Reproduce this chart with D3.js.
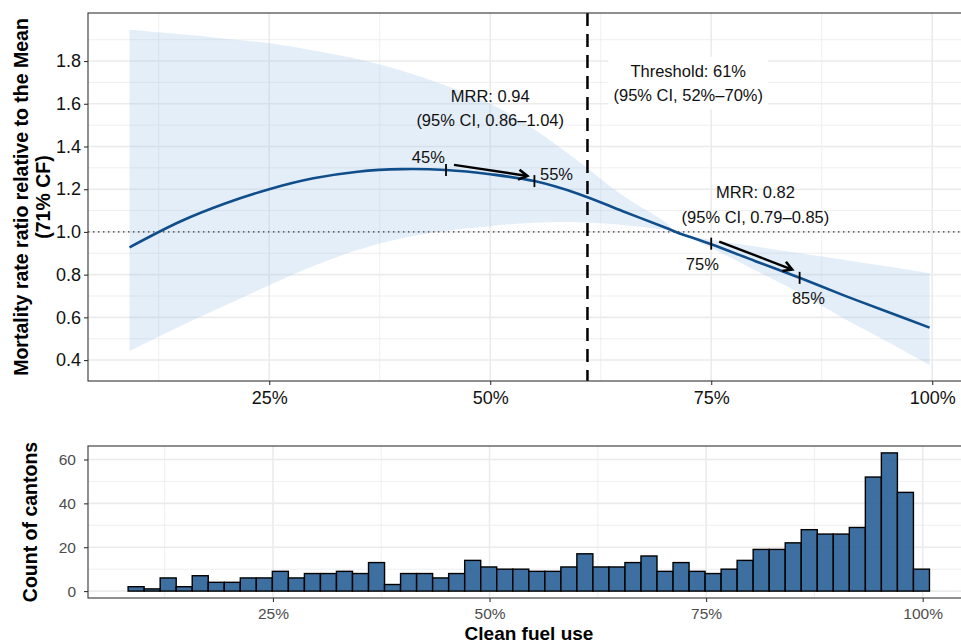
<!DOCTYPE html>
<html>
<head>
<meta charset="utf-8">
<script src="https://cdn.jsdelivr.net/npm/d3@7"></script>
<style>
  body { margin: 0; background: #fff; }
  svg { display: block; font-family: "Liberation Sans", Arial, Helvetica, sans-serif; }
</style>
</head>
<body>
<div class="container"></div>
<script>
// ---- data ----
// spline fit (MRR relative to 71% CF) and its 95% ribbon
const fuelX    = [0.092, 0.15, 0.2, 0.25, 0.3, 0.35, 0.4, 0.45, 0.5, 0.55, 0.6, 0.65, 0.7, 0.71, 0.75, 0.8, 0.85, 0.9, 0.95, 0.997];
const mrrFit   = [0.928, 1.05, 1.133, 1.2, 1.251, 1.282, 1.294, 1.29, 1.27, 1.238, 1.178, 1.097, 1.017, 1.0, 0.942, 0.863, 0.785, 0.703, 0.625, 0.552];
const mrrUpper = [1.946, 1.925, 1.905, 1.883, 1.85, 1.81, 1.755, 1.685, 1.6, 1.48, 1.33, 1.17, 1.04, 1.0, 0.963, 0.932, 0.90, 0.87, 0.838, 0.807];
const mrrLower = [0.443, 0.56, 0.655, 0.75, 0.84, 0.915, 0.97, 1.005, 1.027, 1.043, 1.045, 1.032, 1.008, 1.0, 0.925, 0.82, 0.714, 0.595, 0.485, 0.377];

// histogram of cantons (50 bins)
const binCounts = [2, 1, 6, 2, 7, 4, 4, 6, 6, 9, 6, 8, 8, 9, 8, 13, 3, 8, 8, 6,
                   8, 14, 11, 10, 10, 9, 9, 11, 17, 11, 11, 13, 16, 9, 13, 9, 8, 10, 14, 19,
                   19, 22, 28, 26, 26, 29, 52, 63, 45, 10];
const binStart = 0.0828;
const binWidth = 0.0185;

// ticks
const xMajor = [0.25, 0.5, 0.75, 1];
const xMinor = [0.125, 0.375, 0.625, 0.875];
const yMajorTop = [0.4, 0.6, 0.8, 1.0, 1.2, 1.4, 1.6, 1.8];
const yMinorTop = [0.5, 0.7, 0.9, 1.1, 1.3, 1.5, 1.7, 1.9];
const yMajorBot = [0, 20, 40, 60];
const yMinorBot = [10, 30, 50];

// annotations
const threshold = 0.61;
const markX = [0.45, 0.55, 0.75, 0.85];
const markY = [1.29, 1.238, 0.945, 0.785];
const markLabels = ["45%", "55%", "75%", "85%"];
const markLabelX = [0.43, 0.575, 0.74, 0.86];
const markLabelY = [1.35, 1.27, 0.85, 0.69];
const arrowFrom = [[0.459, 1.314], [0.759, 0.955]];
const arrowTo = [[0.542, 1.262], [0.8416, 0.824]];
const mrrNotes = [
    {x: 0.5, y: 1.579, lines: ["MRR: 0.94", "(95% CI, 0.86\u20131.04)"]},
    {x: 0.80, y: 1.129, lines: ["MRR: 0.82", "(95% CI, 0.79\u20130.85)"]}
];
const thresholdNote = {x: 0.724, y: 1.697, lines: ["Threshold: 61%", "(95% CI, 52%\u201370%)"]};

//Set up chart
const svgWidth = 961, svgHeight = 643;
const mainBox = {left: 88, right: 972, top: 13, bottom: 381};
const histBox = {left: 88, right: 970, top: 446, bottom: 598};

const svg = d3.select(".container")
    .append("svg")
    .attr("width", svgWidth)
    .attr("height", svgHeight);

const xTop = d3.scaleLinear().domain([0.045, 1.045]).range([mainBox.left, mainBox.right]);
const yTop = d3.scaleLinear().domain([0.302, 2.025]).range([mainBox.bottom, mainBox.top]);
const xBot = d3.scaleLinear().domain([0.0365, 1.0546]).range([histBox.left, histBox.right]);
const yBot = d3.scaleLinear().domain([-3.15, 66.15]).range([histBox.bottom, histBox.top]);

const pct = d3.format(".0%");
const smooth = d3.curveCatmullRom.alpha(0.5);

//Background grid for a panel
function drawGrid(g, x, y, box, xMaj, xMin, yMaj, yMin) {
    g.selectAll(".gx-min").data(xMin).join("line")
        .attr("x1", d => x(d)).attr("x2", d => x(d))
        .attr("y1", box.top).attr("y2", box.bottom)
        .attr("stroke", "#ebebeb").attr("stroke-width", 0.8);
    g.selectAll(".gy-min").data(yMin).join("line")
        .attr("y1", d => y(d)).attr("y2", d => y(d))
        .attr("x1", box.left).attr("x2", box.right)
        .attr("stroke", "#ebebeb").attr("stroke-width", 0.8);
    g.selectAll(".gx-maj").data(xMaj).join("line")
        .attr("x1", d => x(d)).attr("x2", d => x(d))
        .attr("y1", box.top).attr("y2", box.bottom)
        .attr("stroke", "#ebebeb").attr("stroke-width", 1.6);
    g.selectAll(".gy-maj").data(yMaj).join("line")
        .attr("y1", d => y(d)).attr("y2", d => y(d))
        .attr("x1", box.left).attr("x2", box.right)
        .attr("stroke", "#ebebeb").attr("stroke-width", 1.6);
}

// ---------- top panel ----------
const mainGroup = svg.append("g");
drawGrid(mainGroup.append("g"), xTop, yTop, mainBox, xMajor, xMinor, yMajorTop, yMinorTop);

const idx = d3.range(fuelX.length);

mainGroup.append("path")
    .datum(idx)
    .attr("fill", "#a6c8ec")
    .attr("fill-opacity", 0.3)
    .attr("d", d3.area()
        .x(i => xTop(fuelX[i]))
        .y0(i => yTop(mrrLower[i]))
        .y1(i => yTop(mrrUpper[i]))
        .curve(smooth));

// reference line at 1
mainGroup.append("line")
    .attr("x1", mainBox.left).attr("x2", mainBox.right)
    .attr("y1", yTop(1)).attr("y2", yTop(1))
    .attr("stroke", "#333")
    .attr("stroke-width", 1.4)
    .attr("stroke-dasharray", "1.4,3.6");

// threshold line
mainGroup.append("line")
    .attr("x1", xTop(threshold)).attr("x2", xTop(threshold))
    .attr("y1", mainBox.top).attr("y2", mainBox.bottom)
    .attr("stroke", "#000")
    .attr("stroke-width", 2.5)
    .attr("stroke-dasharray", "13,8");

// fitted curve
mainGroup.append("path")
    .datum(idx)
    .attr("fill", "none")
    .attr("stroke", "#104e8b")
    .attr("stroke-width", 2.6)
    .attr("d", d3.line()
        .x(i => xTop(fuelX[i]))
        .y(i => yTop(mrrFit[i]))
        .curve(smooth));

// short ticks on the curve
mainGroup.selectAll(".mark").data(markX).join("line")
    .attr("x1", d => xTop(d)).attr("x2", d => xTop(d))
    .attr("y1", (d, i) => yTop(markY[i]) - 6)
    .attr("y2", (d, i) => yTop(markY[i]) + 6)
    .attr("stroke", "#000")
    .attr("stroke-width", 1.8);

mainGroup.selectAll(".mark-label").data(markLabels).join("text")
    .attr("x", (d, i) => xTop(markLabelX[i]))
    .attr("y", (d, i) => yTop(markLabelY[i]))
    .attr("dy", "0.36em")
    .attr("text-anchor", "middle")
    .attr("font-size", 16.5)
    .attr("fill", "#111")
    .text(d => d);

// arrows
arrowFrom.forEach(function(from, i) {
    const x1 = xTop(from[0]), y1 = yTop(from[1]);
    const x2 = xTop(arrowTo[i][0]), y2 = yTop(arrowTo[i][1]);
    const ang = Math.atan2(y2 - y1, x2 - x1);
    const len = 10, spread = Math.PI / 6;
    mainGroup.append("line")
        .attr("x1", x1).attr("y1", y1).attr("x2", x2).attr("y2", y2)
        .attr("stroke", "#000").attr("stroke-width", 2.4);
    mainGroup.append("path")
        .attr("d", `M${x2 - len * Math.cos(ang - spread)},${y2 - len * Math.sin(ang - spread)}` +
            `L${x2},${y2}` +
            `L${x2 - len * Math.cos(ang + spread)},${y2 - len * Math.sin(ang + spread)}`)
        .attr("fill", "none")
        .attr("stroke", "#000")
        .attr("stroke-width", 2.6)
        .attr("stroke-linejoin", "miter");
});

//Multi-line note helper
const lineGap = 24.5;
function addNote(g, note) {
    const t = g.append("text")
        .attr("text-anchor", "middle")
        .attr("font-size", 16.5)
        .attr("fill", "#111");
    note.lines.forEach(function(line, k) {
        t.append("tspan")
            .attr("x", xTop(note.x))
            .attr("y", yTop(note.y) + (k - (note.lines.length - 1) / 2) * lineGap)
            .attr("dy", "0.36em")
            .text(line);
    });
    return t;
}

mrrNotes.forEach(n => addNote(mainGroup, n));

const thrGroup = mainGroup.append("g");
const thrBg = thrGroup.append("rect").attr("fill", "#fff");
const thrText = addNote(thrGroup, thresholdNote);
const bb = thrText.node().getBBox();
thrBg.attr("x", bb.x - 5).attr("y", bb.y - 5)
    .attr("width", bb.width + 10).attr("height", bb.height + 10)
    .attr("rx", 3);

// border
mainGroup.append("rect")
    .attr("x", mainBox.left).attr("y", mainBox.top)
    .attr("width", mainBox.right - mainBox.left)
    .attr("height", mainBox.bottom - mainBox.top)
    .attr("fill", "none").attr("stroke", "#333").attr("stroke-width", 1.1);

// axes
const leftAxisTop = mainGroup.append("g")
    .attr("transform", `translate(${mainBox.left},0)`)
    .call(d3.axisLeft(yTop).tickValues(yMajorTop).tickSize(4).tickPadding(3).tickFormat(d3.format(".1f")));
const bottomAxisTop = mainGroup.append("g")
    .attr("transform", `translate(0,${mainBox.bottom})`)
    .call(d3.axisBottom(xTop).tickValues(xMajor).tickSize(4).tickPadding(6).tickFormat(pct));

[leftAxisTop, bottomAxisTop].forEach(function(ax) {
    ax.select(".domain").remove();
    ax.selectAll(".tick line").attr("stroke", "#333").attr("stroke-width", 1.1);
    ax.selectAll("text")
        .attr("font-family", "'Liberation Sans', Arial, sans-serif")
        .attr("font-size", 18).attr("fill", "#111");
});

// y title
const yTitle = mainGroup.append("text")
    .attr("transform", `translate(0,${(mainBox.top + mainBox.bottom) / 2}) rotate(-90)`)
    .attr("text-anchor", "middle")
    .attr("font-weight", "bold")
    .attr("font-size", 19.5)
    .attr("fill", "#000");
yTitle.append("tspan").attr("x", 0).attr("y", 28).text("Mortality rate ratio relative to the Mean");
yTitle.append("tspan").attr("x", 0).attr("y", 50).text("(71% CF)");

// ---------- bottom panel ----------
const histGroup = svg.append("g");
drawGrid(histGroup.append("g"), xBot, yBot, histBox, xMajor, xMinor, yMajorBot, yMinorBot);

histGroup.selectAll(".bar").data(binCounts).join("rect")
    .attr("x", (d, i) => xBot(binStart + i * binWidth))
    .attr("width", xBot(binWidth) - xBot(0))
    .attr("y", d => yBot(d))
    .attr("height", d => yBot(0) - yBot(d))
    .attr("fill", "#285f97")
    .attr("fill-opacity", 0.9)
    .attr("stroke", "#000")
    .attr("stroke-width", 1.4);

histGroup.append("rect")
    .attr("x", histBox.left).attr("y", histBox.top)
    .attr("width", histBox.right - histBox.left)
    .attr("height", histBox.bottom - histBox.top)
    .attr("fill", "none").attr("stroke", "#333").attr("stroke-width", 1.1);

const leftAxisBot = histGroup.append("g")
    .attr("transform", `translate(${histBox.left},0)`)
    .call(d3.axisLeft(yBot).tickValues(yMajorBot).tickSize(4).tickPadding(8));
const bottomAxisBot = histGroup.append("g")
    .attr("transform", `translate(0,${histBox.bottom})`)
    .call(d3.axisBottom(xBot).tickValues(xMajor).tickSize(4).tickPadding(6).tickFormat(pct));

[leftAxisBot, bottomAxisBot].forEach(function(ax) {
    ax.select(".domain").remove();
    ax.selectAll(".tick line").attr("stroke", "#333").attr("stroke-width", 1.1);
    ax.selectAll("text")
        .attr("font-family", "'Liberation Sans', Arial, sans-serif")
        .attr("font-size", 15.5).attr("fill", "#4d4d4d");
});

histGroup.append("text")
    .attr("transform", `translate(37,${(histBox.top + histBox.bottom) / 2}) rotate(-90)`)
    .attr("text-anchor", "middle")
    .attr("font-weight", "bold")
    .attr("font-size", 19.5)
    .text("Count of cantons");

histGroup.append("text")
    .attr("x", (histBox.left + histBox.right) / 2)
    .attr("y", 640)
    .attr("text-anchor", "middle")
    .attr("font-weight", "bold")
    .attr("font-size", 19)
    .text("Clean fuel use");
</script>
</body>
</html>
